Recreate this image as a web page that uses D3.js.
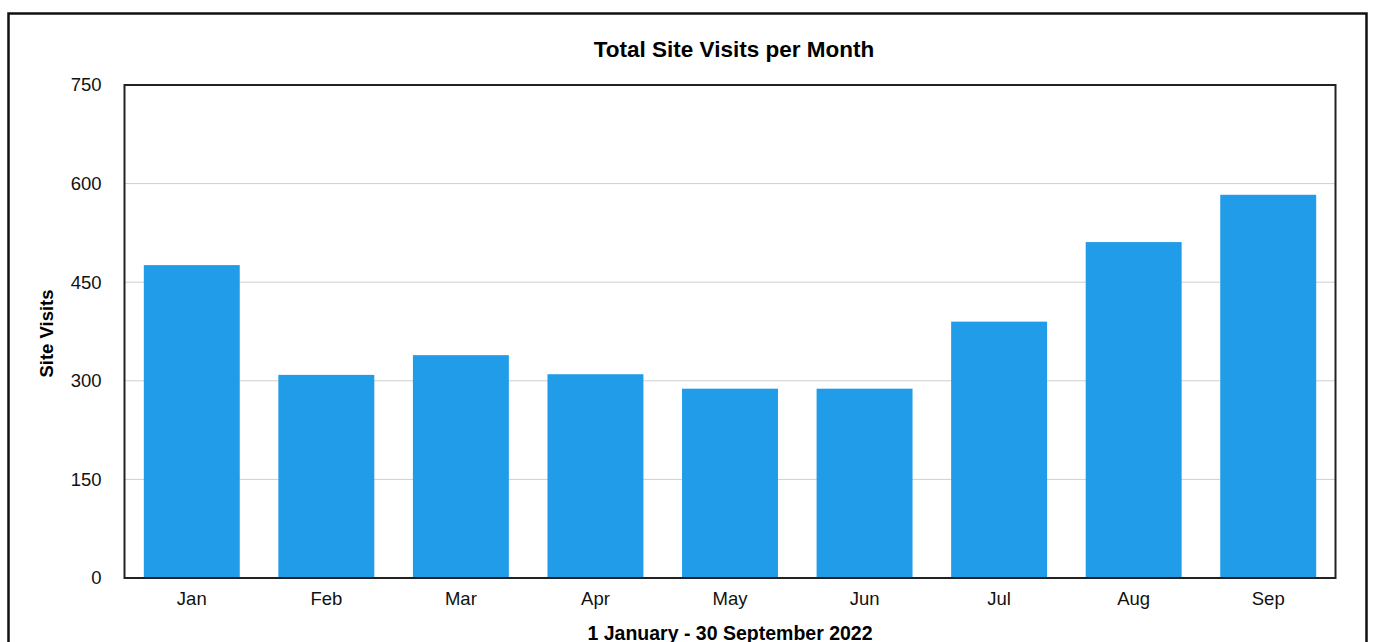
<!DOCTYPE html>
<html>
<head>
<meta charset="utf-8">
<script src="https://cdn.jsdelivr.net/npm/d3@7"></script>
<style>
  body { margin: 0; background: #fff; }
  svg { display: block; font-family: "Liberation Sans", Arial, Helvetica, sans-serif; }
</style>
</head>
<body>
<svg id="chart"></svg>
<script>
const months = ['Jan','Feb','Mar','Apr','May','Jun','Jul','Aug','Sep'];
const visits = [476, 309, 339, 310, 288, 288, 390, 511, 583];
const yTicks = [0, 150, 300, 450, 600, 750];

const W = 1374, H = 642;
const margin = {top:85, bottom:64, left:124.5, right:38.5};
const width = W - margin.left - margin.right;
const height = H - margin.top - margin.bottom;

const root = d3.select('#chart')
.attr('width', W)
.attr('height', H);

// outer frame
root.append('rect')
.attr('x', 8.5)
.attr('y', 13.5)
.attr('width', 1358)
.attr('height', 700)
.attr('fill', 'none')
.attr('stroke', '#111')
.attr('stroke-width', 2.5);

root.append('text')
.attr('x', margin.left + width/2 + 4)
.attr('y', 57)
.attr('text-anchor', 'middle')
.style('font-size', '22.5px')
.style('font-weight', 'bold')
.text('Total Site Visits per Month');

const svg = root.append('g')
.attr('transform', `translate(${margin.left}, ${margin.top})`);

const x = d3.scaleBand()
.domain(months)
.range([0, width])
.paddingInner(0.287)
.paddingOuter(0.1435);

const y = d3.scaleLinear()
.domain([0, 750])
.range([height, 0]);

// gridlines
svg.append('g')
.selectAll('line')
.data(yTicks.slice(1, -1))
.enter()
.append('line')
.attr('x1', 0)
.attr('x2', width)
.attr('y1', d => y(d))
.attr('y2', d => y(d))
.attr('stroke', '#cfcfcf')
.attr('stroke-width', 1);

svg.selectAll('rect.bar')
.data(visits)
.enter()
.append('rect')
.attr('class', 'bar')
.attr('x', (d,i) => x(months[i]))
.attr('y', d => y(d))
.attr('width', x.bandwidth())
.attr('height', d => height - y(d))
.attr('fill', '#209ce8');

// plot frame
svg.append('rect')
.attr('x', 0)
.attr('y', 0)
.attr('width', width)
.attr('height', height)
.attr('fill', 'none')
.attr('stroke', '#222')
.attr('stroke-width', 2);

const yAxis = svg.append('g')
.call(d3.axisLeft(y).tickValues(yTicks).tickSize(0).tickPadding(23));
yAxis.select('.domain').remove();
yAxis.selectAll('text')
.style('font-size', '18.5px')
.attr('fill', '#111');

const xAxis = svg.append('g')
.attr('transform', `translate(0,${height})`)
.call(d3.axisBottom(x).tickSize(0).tickPadding(14));
xAxis.select('.domain').remove();
xAxis.selectAll('text')
.style('font-size', '18.5px')
.attr('fill', '#111');

root.append('text')
.attr('transform', `translate(53, ${margin.top + height/2 + 2}) rotate(-90)`)
.attr('text-anchor', 'middle')
.style('font-size', '18.5px')
.style('font-weight', 'bold')
.text('Site Visits');

root.append('text')
.attr('x', margin.left + width/2 + 0)
.attr('y', 640)
.attr('text-anchor', 'middle')
.style('font-size', '19.5px')
.style('font-weight', 'bold')
.text('1 January - 30 September 2022');
</script>
</body>
</html>
